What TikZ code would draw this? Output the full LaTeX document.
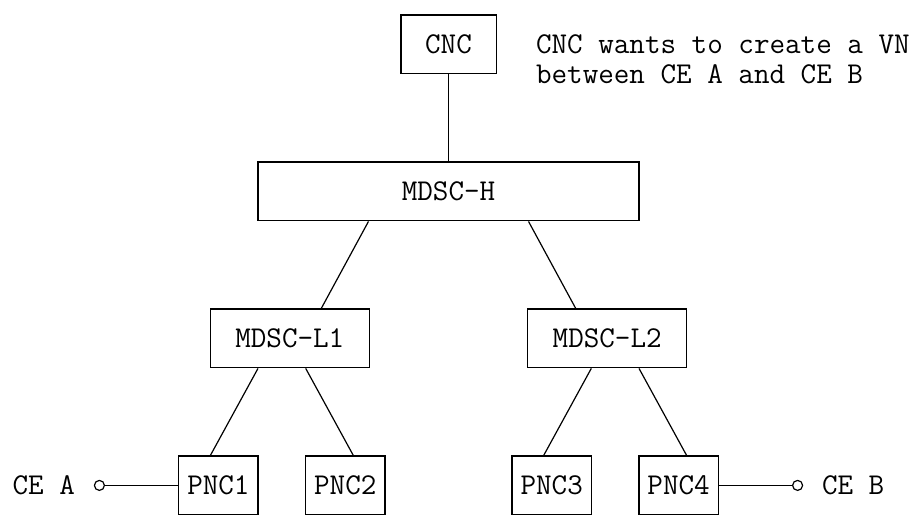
\documentclass[tikz,border=0pt]{standalone}
\usepackage{fontspec}
\newcommand{\asciisize}{\fontsize{22.67}{25}\selectfont}
\usetikzlibrary{calc}
\tikzset{
    ctrl/.style={draw, line width=0.9pt, minimum height=44.1pt, inner sep=0pt, font=\ttfamily\asciisize},
    note/.style={inner sep=0pt, font=\ttfamily\asciisize},
    ce/.style={draw, circle, line width=0.9pt, minimum size=7.5pt, inner sep=0pt},
    link/.style={line width=0.9pt}
}

\begin{document}
\begin{tikzpicture}[x=0.75pt, y=-0.75pt]
    \useasboundingbox (0, 0) rectangle (921, 524);

    % controllers
    \node[ctrl, minimum width=71.4pt] (cnc) at (448.5, 44.4) {CNC};
    \node[note, anchor=west] (notea) at (535.8, 44.4) {CNC wants to create a VN};
    \node[note, anchor=west] (noteb) at (535.8, 73.8) {between CE A and CE B};
    \node[ctrl, minimum width=285.75pt] (mdsch) at (448.5, 191.4) {MDSC-H};
    \node[ctrl, minimum width=119pt] (mdscl1) at (289.8, 338.4) {MDSC-L1};
    \node[ctrl, minimum width=119pt] (mdscl2) at (607.2, 338.4) {MDSC-L2};

    % provisioning network controllers
    \node[ctrl, minimum width=59.5pt] (pnc1) at (218.4, 485.4) {PNC1};
    \node[ctrl, minimum width=59.5pt] (pnc2) at (345.3, 485.4) {PNC2};
    \node[ctrl, minimum width=59.5pt] (pnc3) at (551.7, 485.4) {PNC3};
    \node[ctrl, minimum width=59.5pt] (pnc4) at (678.6, 485.4) {PNC4};

    % customer edges
    \node[note] (cea) at (43.8, 485.4) {CE A};
    \node[ce] (oa) at (99.4, 485.4) {};
    \node[ce] (ob) at (797.6, 485.4) {};
    \node[note] (ceb) at (853.2, 485.4) {CE B};

    \draw[link] (cnc) -- (mdsch);
    \draw[link] ($(mdsch.south)+(-80, 0)$) -- ($(mdscl1.north)+(31.5, 0)$);
    \draw[link] ($(mdsch.south)+(80, 0)$) -- ($(mdscl2.north)+(-31.5, 0)$);
    \draw[link] ($(mdscl1.south)+(-31.8, 0)$) -- ($(pnc1.north)+(-8, 0)$);
    \draw[link] ($(mdscl1.south)+(15.9, 0)$) -- ($(pnc2.north)+(8, 0)$);
    \draw[link] ($(mdscl2.south)+(-15.9, 0)$) -- ($(pnc3.north)+(-8, 0)$);
    \draw[link] ($(mdscl2.south)+(31.8, 0)$) -- ($(pnc4.north)+(8, 0)$);
    \draw[link] (oa) -- (pnc1);
    \draw[link] (pnc4) -- (ob);
\end{tikzpicture}
\end{document}
